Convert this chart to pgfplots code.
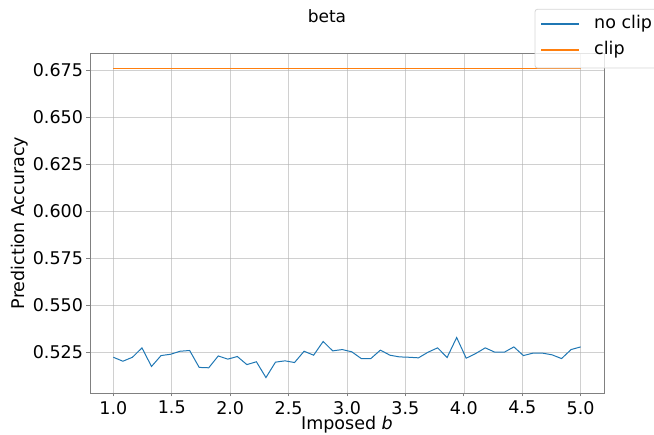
\documentclass[border=0pt]{standalone}
\usepackage{pgfplots}
\pgfplotsset{compat=1.18}
\usepackage{fontspec}
\setmainfont{DejaVu Sans}
\definecolor{mplblue}{HTML}{1F77B4}
\definecolor{mplorange}{HTML}{FF7F0E}
\definecolor{gridgray}{HTML}{B0B0B0}
\definecolor{legframe}{HTML}{D6D6D6}
\begin{document}
\begin{tikzpicture}[x=1pt,y=1pt]
\useasboundingbox (-90,-42) rectangle (564,393);
\begin{axis}[
  at={(0,0)}, anchor=south west,
  scale only axis, width=514pt, height=340pt,
  xmin=0.8, xmax=5.2, ymin=0.5033, ymax=0.6841,
  xtick={1.0,1.5,2.0,2.5,3.0,3.5,4.0,4.5,5.0},
  ytick={0.525,0.550,0.575,0.600,0.625,0.650,0.675},
  xticklabels={1.0,1.5,2.0,2.5,3.0,3.5,4.0,4.5,5.0},
  yticklabels={0.525,0.550,0.575,0.600,0.625,0.650,0.675},
  grid=major,
  major grid style={gridgray, line width=0.6pt, opacity=0.6},
  axis line style={gray, line width=0.8pt},
  tick style={gray, line width=0.8pt},
  tick align=outside, major tick length=3.5pt,
  xtick pos=bottom, ytick pos=left,
  ticklabel style={font=\fontsize{17.5}{21}\selectfont, text=black},
  xticklabel style={yshift=-1pt},
  xlabel={Imposed \textit{b}},
  ylabel={Prediction Accuracy},
  label style={font=\fontsize{17.5}{21}\selectfont},
  xlabel style={at={(axis description cs:0.5,0)}, anchor=base, yshift=-37pt},
  ylabel style={at={(axis description cs:-0.1362,0.5)}, anchor=center},
  clip=false,
]
\addplot[mplblue, line width=1pt] coordinates {
(1.000000,0.5223) (1.081633,0.5202) (1.163265,0.5223) (1.244898,0.5273)
(1.326531,0.5174) (1.408163,0.5232) (1.489796,0.5239) (1.571429,0.5255)
(1.653061,0.5259) (1.734694,0.5169) (1.816327,0.5167) (1.897959,0.5230)
(1.979592,0.5213) (2.061224,0.5227) (2.142857,0.5184) (2.224490,0.5199)
(2.306122,0.5115) (2.387755,0.5197) (2.469388,0.5204) (2.551020,0.5195)
(2.632653,0.5255) (2.714286,0.5234) (2.795918,0.5307) (2.877551,0.5257)
(2.959184,0.5264) (3.040816,0.5252) (3.122449,0.5216) (3.204082,0.5216)
(3.285714,0.5261) (3.367347,0.5234) (3.448980,0.5225) (3.530612,0.5223)
(3.612245,0.5220) (3.693878,0.5250) (3.775510,0.5273) (3.857143,0.5222)
(3.938776,0.5328) (4.020408,0.5218) (4.102041,0.5243) (4.183673,0.5273)
(4.265306,0.5250) (4.346939,0.5250) (4.428571,0.5278) (4.510204,0.5232)
(4.591837,0.5245) (4.673469,0.5245) (4.755102,0.5236) (4.836735,0.5216)
(4.918367,0.5264) (5.000000,0.5278)
};
\addplot[mplorange, line width=1pt] coordinates {
(1.000000,0.6759) (5.000000,0.6759)
};
\end{axis}
% legend (figure legend, upper right)
\draw[legframe, fill=white, fill opacity=0.8, rounded corners=2.5pt, line width=0.8pt]
  (445,325) rectangle (580,383.7);
\draw[mplblue, line width=1.2pt] (451,369) -- (489,369);
\draw[mplorange, line width=1.2pt] (451,343) -- (489,343);
\node[font=\fontsize{17.5}{21}\selectfont, anchor=base west, inner sep=0pt] at (504,364.5) {no clip};
\node[font=\fontsize{17.5}{21}\selectfont, anchor=base west, inner sep=0pt] at (504,338.5) {clip};
\node[font=\fontsize{17}{20}\selectfont, anchor=base] at (237,370) {beta};
\end{tikzpicture}
\end{document}
